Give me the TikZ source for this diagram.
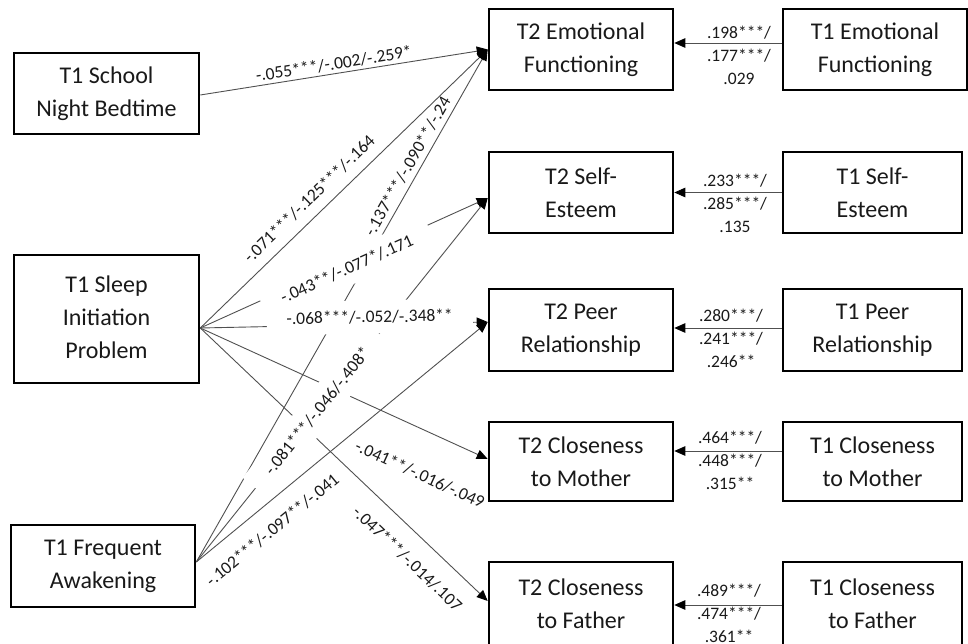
\documentclass[tikz,border=0pt]{standalone}
\usepackage{fontspec}
\setmainfont{Carlito}
\usetikzlibrary{arrows.meta}
\definecolor{lnc}{RGB}{80,80,80}
\definecolor{txc}{RGB}{25,25,25}
\begin{document}
\begin{tikzpicture}[x=1pt,y=-1pt,
 box/.style={draw=black, line width=2.6pt, rectangle, inner sep=0pt, align=center, text=txc, font=\fontsize{24}{33}\selectfont},
 conn/.style={draw=lnc, line width=0.9pt, -{Triangle[length=11pt,width=9.5pt,black]}},
 blab/.style={text=txc, font=\fontsize{17.5}{23}\selectfont, inner sep=0pt, sloped},
 olab/.style={blab, fill=white, inner xsep=20pt, inner ysep=10pt},
 rlab/.style={text=txc, font=\fontsize{17.5}{23}\selectfont, inner sep=0pt, align=center}
]
\useasboundingbox (0,0) rectangle (968,644);
% left column
\node[box, minimum width=185pt, minimum height=81pt] (sch) at (106.5,93.5) {T1 School\\Night Bedtime};
\node[box, minimum width=185pt, minimum height=128pt] (slp) at (106.5,319) {\raisebox{5pt}{\begin{tabular}{@{}c@{}}T1 Sleep\\Initiation\\Problem\end{tabular}}};
\node[box, minimum width=184pt, minimum height=82pt] (frq) at (103,566) {T1 Frequent\\Awakening};
% T2 column
\node[box, minimum width=184pt, minimum height=81pt] (t2e) at (581,49.5) {T2 Emotional\\Functioning};
\node[box, minimum width=184pt, minimum height=81pt] (t2s) at (581,192.5) {T2 Self-\\Esteem};
\node[box, minimum width=184pt, minimum height=82pt] (t2p) at (581,330) {T2 Peer\\Relationship};
\node[box, minimum width=184pt, minimum height=79pt] (t2m) at (581,461.5) {T2 Closeness\\to Mother};
\node[box, minimum width=184pt, minimum height=84pt] (t2f) at (581,604) {T2 Closeness\\to Father};
% T1 column
\node[box, minimum width=184pt, minimum height=81pt] (t1e) at (875,49.5) {T1 Emotional\\Functioning};
\node[box, minimum width=179pt, minimum height=81pt] (t1s) at (872.5,192.5) {T1 Self-\\Esteem};
\node[box, minimum width=179pt, minimum height=82pt] (t1p) at (872.5,330) {T1 Peer\\Relationship};
\node[box, minimum width=179pt, minimum height=79pt] (t1m) at (872.5,461.5) {T1 Closeness\\to Mother};
\node[box, minimum width=179pt, minimum height=84pt] (t1f) at (872.5,604) {T1 Closeness\\to Father};
% ports
\coordinate (schO) at ([yshift=-1.5pt]sch.east);
\coordinate (slpO) at ([yshift=-9pt]slp.east);
\coordinate (frqO) at ([yshift=4pt]frq.east);
\coordinate (t2eI) at (t2e.west);
\coordinate (t2sI) at ([yshift=-5.5pt]t2s.west);
\coordinate (t2pI) at ([yshift=8pt]t2p.west);
\coordinate (t2mI) at ([yshift=2.5pt]t2m.west);
\coordinate (t2fI) at ([yshift=3pt]t2f.west);
% diagonal connectors
\draw[conn] (schO) -- (t2eI);
\draw[conn] (slpO) -- (t2eI);
\draw[conn] (frqO) -- (t2eI);
\draw[conn] (slpO) -- (t2sI);
\draw[conn] (frqO) -- (t2sI);
\draw[conn] (slpO) -- (t2pI);
\draw[conn] (frqO) -- (t2pI);
\draw[conn] (slpO) -- (t2mI);
\draw[conn] (slpO) -- (t2fI);
% T1 -> T2 connectors
\draw[conn] ([yshift=6.5pt]t1e.west) -- ([yshift=6.5pt]t2e.east);
\draw[conn] (t1s.west) -- (t2s.east);
\draw[conn] ([yshift=2pt]t1p.west) -- ([yshift=2pt]t2p.east);
\draw[conn] ([yshift=10.5pt]t1m.west) -- ([yshift=10.5pt]t2m.east);
\draw[conn] ([yshift=-1pt]t1f.west) -- ([yshift=-1pt]t2f.east);
% labels lying on their lines
\path (slpO) -- (t2pI) node[olab, pos=0.59, yshift=7.5pt] {-.068***/-.052/-.348**};
\path (slpO) -- (t2sI) node[olab, pos=0.5, yshift=-6.5pt] {-.043**/-.077*/.171};
\path (frqO) -- (t2sI) node[olab, pos=0.415] {-.081***/-.046/-.408*};
% labels beside their lines
\path (schO) -- (t2eI) node[blab, pos=0.47, yshift=10pt] {-.055***/-.002/-.259*};
\path (slpO) -- (t2eI) node[blab, pos=0.42, yshift=17pt] {-.071***/-.125***/-.164};
\path (frqO) -- (t2eI) node[blab, pos=0.76, yshift=12pt] {-.137***/-.090**/-.24};
\path (frqO) -- (t2pI) node[blab, pos=0.21, yshift=-23.5pt] {-.102***/-.097**/-.041};
\path (slpO) -- (t2mI) node[blab, pos=0.825, yshift=-42pt] {-.041**/-.016/-.049};
\path (slpO) -- (t2fI) node[blab, pos=0.78, yshift=-24.5pt] {-.047***/-.014/.107};
% right labels
\node[rlab] (le) at (739,55) {.198***/\\.177***/\\.029};
\node[rlab] (ls) at (735,203) {.233***/\\.285***/\\.135};
\node[rlab] (lp) at (731,338) {.280***/\\.241***/\\.246**};
\node[rlab] (lm) at (730,460) {.464***/\\.448***/\\.315**};
\node[rlab] (lf) at (729,613) {.489***/\\.474***/\\.361**};
\end{tikzpicture}
\end{document}
